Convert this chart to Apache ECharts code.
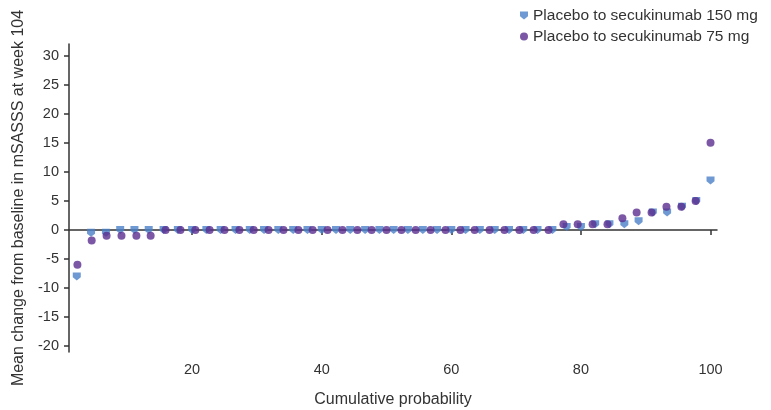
<!DOCTYPE html>
<html>
<head>
<meta charset="utf-8">
<script src="https://cdn.jsdelivr.net/npm/echarts@6/dist/echarts.min.js"></script>
<style>
html,body{margin:0;padding:0;background:#fff;}
#chart{width:771px;height:410px;}
</style>
</head>
<body>
<div id="chart"></div>
<script>
var seriesNames = ['Placebo to secukinumab 150 mg', 'Placebo to secukinumab 75 mg'];
var xTicks = [20, 40, 60, 80, 100];
var yTicks = [-20, -15, -10, -5, 0, 5, 10, 15, 20, 25, 30];

var prob150 = [2.2,4.4,6.7,8.9,11.1,13.3,15.6,17.8,20,22.2,24.4,26.7,28.9,31.1,33.3,35.6,37.8,40,42.2,44.4,46.7,48.9,51.1,53.3,55.6,57.8,60,62.2,64.4,66.7,68.9,71.1,73.3,75.6,77.8,80,82.2,84.4,86.7,88.9,91.1,93.3,95.6,97.8,100];
var val150 = [-8,-0.5,-0.5,0,0,0,0,0,0,0,0,0,0,0,0,0,0,0,0,0,0,0,0,0,0,0,0,0,0,0,0,0,0,0,0.5,0.5,1,1,1,1.5,3,3,4,5,8.5];

var prob75 = [2.3,4.5,6.8,9.1,11.4,13.6,15.9,18.2,20.5,22.7,25,27.3,29.5,31.8,34.1,36.4,38.6,40.9,43.2,45.5,47.7,50,52.3,54.5,56.8,59.1,61.4,63.6,65.9,68.2,70.5,72.7,75,77.3,79.5,81.8,84.1,86.4,88.6,90.9,93.2,95.5,97.7,100];
var val75 = [-6,-1.8,-1,-1,-1,-1,0,0,0,0,0,0,0,0,0,0,0,0,0,0,0,0,0,0,0,0,0,0,0,0,0,0,0,1,1,1,1,2,3,3,4,4,5,15];

function pairs(xs, ys) { return xs.map(function (x, i) { return [x, ys[i]]; }); }

var FONT = '"Liberation Sans", Arial, Helvetica, sans-serif';
var shield = 'path://M0,0 L10,0 L10,6 L5,10 L0,6 Z';
var chart = echarts.init(document.getElementById('chart'));
chart.setOption({
  animation: false,
  backgroundColor: '#fff',
  textStyle: { fontFamily: FONT },
  grid: { left: 69, right: 54, top: 44, bottom: 58, outerBoundsMode: 'none', containLabel: false },
  legend: {
    orient: 'vertical',
    left: 515,
    top: 2,
    itemWidth: 8,
    itemHeight: 8,
    itemGap: 4,
    textStyle: { fontFamily: FONT, fontSize: 15.5, color: '#333', lineHeight: 17 },
    data: [
      { name: seriesNames[0], icon: shield },
      { name: seriesNames[1], icon: 'circle' }
    ]
  },
  xAxis: {
    type: 'value',
    min: 1,
    max: 101,
    name: 'Cumulative probability',
    nameLocation: 'middle',
    nameGap: 40,
    nameTextStyle: { fontFamily: FONT, fontSize: 16, color: '#333' },
    axisLine: { show: true, lineStyle: { color: '#333', width: 1.5 } },
    axisTick: { show: true, length: 5, customValues: xTicks, lineStyle: { color: '#333', width: 1.5 } },
    axisLabel: { customValues: xTicks, margin: 10, fontSize: 14.5, color: '#333', fontFamily: FONT },
    splitLine: { show: false }
  },
  yAxis: {
    type: 'value',
    min: -21,
    max: 32,
    name: 'Mean change from baseline in mSASSS at week 104',
    nameLocation: 'middle',
    nameGap: 42,
    nameRotate: 90,
    nameTextStyle: { fontFamily: FONT, fontSize: 16, color: '#333' },
    axisLine: { show: true, lineStyle: { color: '#333', width: 1.5 } },
    axisTick: { show: true, length: 5, customValues: yTicks, lineStyle: { color: '#333', width: 1.5 } },
    axisLabel: { customValues: yTicks, margin: 10, fontSize: 14.5, color: '#333', fontFamily: FONT },
    splitLine: { show: false }
  },
  series: [
    {
      name: seriesNames[0],
      type: 'scatter',
      symbol: shield,
      symbolSize: 8,
      itemStyle: { color: '#4a80c8' },
      data: pairs(prob150, val150)
    },
    {
      name: seriesNames[1],
      type: 'scatter',
      symbol: 'circle',
      symbolSize: 8,
      itemStyle: { color: '#5a2d8f' },
      data: pairs(prob75, val75)
    }
  ]
});
</script>
</body>
</html>
